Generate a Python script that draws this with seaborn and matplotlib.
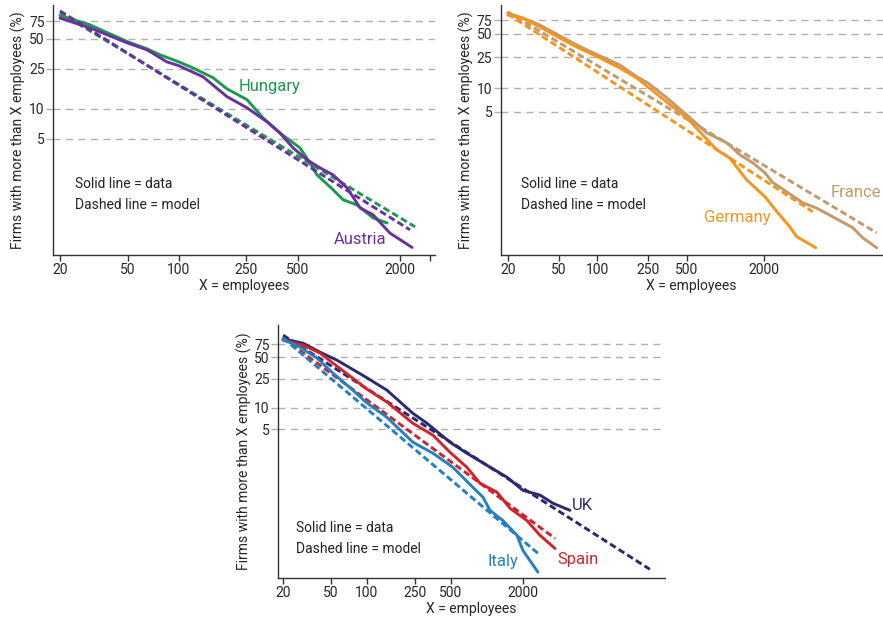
import numpy as np
import pandas as pd
import seaborn as sns
import matplotlib.pyplot as plt

# ---- data (employees, % of firms with more than X employees) ----
hungary_x = [20, 30, 49.6, 65, 77.5, 100, 121, 159, 192, 252, 313, 394, 516, 575, 650, 807, 925, 1117, 1387, 1678]
hungary_y = [85.5, 69, 47, 39.7, 34.6, 29.4, 25.6, 20.4, 15.8, 12.3, 8.1, 5.7, 4.06, 3.08, 2.18, 1.55, 1.23, 1.09, 0.81, 0.72]
hungary_mx = [20, 2450]
hungary_my = [91, 0.66]

austria_x = [20, 30, 49.6, 65, 85, 100, 139, 192, 252, 330, 394, 470, 568, 677, 807, 975, 1164, 1387, 1746, 2355]
austria_y = [80.5, 64.4, 45.6, 38.8, 29.4, 26.9, 20.8, 13.2, 10.2, 7.4, 5.7, 4.06, 3.08, 2.56, 2.18, 1.62, 1.02, 0.87, 0.57, 0.41]
austria_mx = [20, 2290]
austria_my = [95, 0.615]

germany_x = [20, 26.2, 35.6, 49.2, 69.2, 101, 150, 204, 248, 349, 500, 667, 859, 1084, 1472, 2037, 2572, 3190, 3620, 5100]
germany_y = [87.7, 80, 61.5, 45.8, 34.0, 25.4, 18.3, 13.6, 10.5, 6.7, 4.19, 2.54, 1.63, 1.28, 0.67, 0.41, 0.254, 0.168, 0.125, 0.090]
germany_mx = [20, 4830]
germany_my = [90, 0.261]

france_x = [20, 26.2, 35.6, 69.2, 101, 150, 204, 248, 349, 500, 718, 1029, 1298, 1640, 2037, 2350, 3025, 4035, 5190, 6920, 9910, 11860, 15270]
france_y = [93, 80, 65.2, 36.1, 26.9, 20.0, 14.1, 11.8, 7.6, 4.58, 2.69, 2.0, 1.41, 1.11, 0.83, 0.62, 0.47, 0.34, 0.29, 0.225, 0.163, 0.121, 0.090]
france_mx = [20, 15270]
france_my = [96, 0.14]

uk_x = [20, 29.4, 40.7, 56.3, 98, 147, 242, 317, 493, 682, 1002, 1472, 2000, 2773, 3556, 4930]
uk_y = [90, 78, 58.6, 45.4, 26.4, 17.4, 8.3, 6.05, 3.3, 2.32, 1.58, 1.08, 0.71, 0.61, 0.47, 0.375]
uk_mx = [20, 22860]
uk_my = [101, 0.057]

spain_x = [20, 29.4, 40.7, 52.2, 98, 147, 242, 356, 493, 682, 877, 1214, 1560, 2160, 2773, 3700]
spain_y = [86, 73.5, 56.9, 41.3, 18.5, 11.9, 6.05, 4.13, 2.4, 1.48, 0.89, 0.67, 0.40, 0.27, 0.169, 0.111]
spain_mx = [20, 3700]
spain_my = [92, 0.153]

italy_x = [20, 27.7, 38.4, 52.2, 76.5, 98, 147, 242, 356, 522, 766, 929, 1062, 1362, 1782, 2000, 2667]
italy_y = [88, 68.9, 48.4, 30, 17.4, 11.9, 7.3, 3.3, 2.32, 1.48, 0.78, 0.57, 0.375, 0.27, 0.169, 0.104, 0.052]
italy_mx = [20, 2667]
italy_my = [92, 0.095]

xticks = [20, 50, 100, 250, 500, 2000]
yticks = [5, 10, 25, 50, 75]

colors = {
    "Hungary": "#1a9a4a", "Austria": "#6b2fa0",
    "Germany": "#f7941d", "France": "#c49a6c",
    "UK": "#2c2a6e", "Spain": "#d2232a", "Italy": "#2280c3",
}

sns.set_theme(style="white")
plt.rcParams["font.family"] = ["Roboto", "DejaVu Sans"]

fig = plt.figure(figsize=(8.83, 6.17), dpi=100)
axA = fig.add_axes([0.060, 0.587, 0.4326, 0.405])
axB = fig.add_axes([0.567, 0.587, 0.4326, 0.405])
axC = fig.add_axes([0.315, 0.063, 0.438, 0.41])


def draw(ax, name, x, y, mx, my):
    c = colors[name]
    sns.lineplot(x=x, y=y, ax=ax, color=c, lw=2.1, sort=False, estimator=None, zorder=3)
    sns.lineplot(x=mx, y=my, ax=ax, color=c, lw=2.1, sort=False, estimator=None,
                 dashes=False, zorder=3).lines[-1].set_dashes((2.3, 1.2))


def style(ax, xlim, ylim, extra_ticks=()):
    ax.set_xscale("log")
    ax.set_yscale("log")
    ax.set_xlim(*xlim)
    ax.set_ylim(*ylim)
    for v in yticks:
        ax.axhline(v, color="#b0b0b0", lw=1.0, ls=(0, (5, 4)), zorder=1)
    ax.set_xticks(list(xticks) + list(extra_ticks))
    ax.set_xticklabels([str(t) for t in xticks] + ["" for _ in extra_ticks])
    ax.set_yticks(yticks)
    ax.set_yticklabels([str(t) for t in yticks])
    ax.minorticks_off()
    ax.tick_params(axis="x", length=4, width=1, color="#333333", labelsize=10, pad=2, direction="out")
    ax.tick_params(axis="y", length=5, width=1, color="#b0b0b0", labelsize=10, pad=1)
    ax.tick_params(bottom=True, left=True)
    sns.despine(ax=ax)
    for s in ["left", "bottom"]:
        ax.spines[s].set_color("#333333")
        ax.spines[s].set_linewidth(1.0)
    ax.set_xlabel("X = employees", fontsize=10, labelpad=1)
    ax.set_ylabel("Firms with more than X employees (%)", fontsize=10, labelpad=2)


def note(ax, x, y1, y2):
    ax.text(x, y1, "Solid line = data", transform=ax.transAxes, fontsize=10, color="#222222", va="center")
    ax.text(x, y2, "Dashed line = model", transform=ax.transAxes, fontsize=10, color="#222222", va="center")


# Panel A
draw(axA, "Hungary", hungary_x, hungary_y, hungary_mx, hungary_my)
draw(axA, "Austria", austria_x, austria_y, austria_mx, austria_my)
style(axA, (18.2, 3210), (0.346, 109), extra_ticks=[3000])
axA.text(0.568, 0.672, "Hungary", transform=axA.transAxes, color=colors["Hungary"], fontsize=12, ha="center", va="center")
axA.text(0.804, 0.06, "Austria", transform=axA.transAxes, color=colors["Austria"], fontsize=12, ha="center", va="center")
note(axA, 0.058, 0.284, 0.2)

# Panel B
draw(axB, "France", france_x, france_y, france_mx, france_my)
draw(axB, "Germany", germany_x, germany_y, germany_mx, germany_my)
style(axB, (17.6, 17000), (0.073, 118))
axB.text(0.997, 0.248, "France", transform=axB.transAxes, color=colors["France"], fontsize=12, ha="right", va="center")
axB.text(0.62, 0.148, "Germany", transform=axB.transAxes, color=colors["Germany"], fontsize=12, ha="center", va="center")
note(axB, 0.052, 0.284, 0.2)

# Panel C
draw(axC, "UK", uk_x, uk_y, uk_mx, uk_my)
draw(axC, "Spain", spain_x, spain_y, spain_mx, spain_my)
draw(axC, "Italy", italy_x, italy_y, italy_mx, italy_my)
style(axC, (18.2, 30500), (0.043, 139))
axC.text(0.788, 0.289, "UK", transform=axC.transAxes, color=colors["UK"], fontsize=12, ha="center", va="center")
axC.text(0.775, 0.075, "Spain", transform=axC.transAxes, color=colors["Spain"], fontsize=12, ha="center", va="center")
axC.text(0.581, 0.067, "Italy", transform=axC.transAxes, color=colors["Italy"], fontsize=12, ha="center", va="center")
note(axC, 0.047, 0.198, 0.115)

fig.savefig("out.png", dpi=100)
